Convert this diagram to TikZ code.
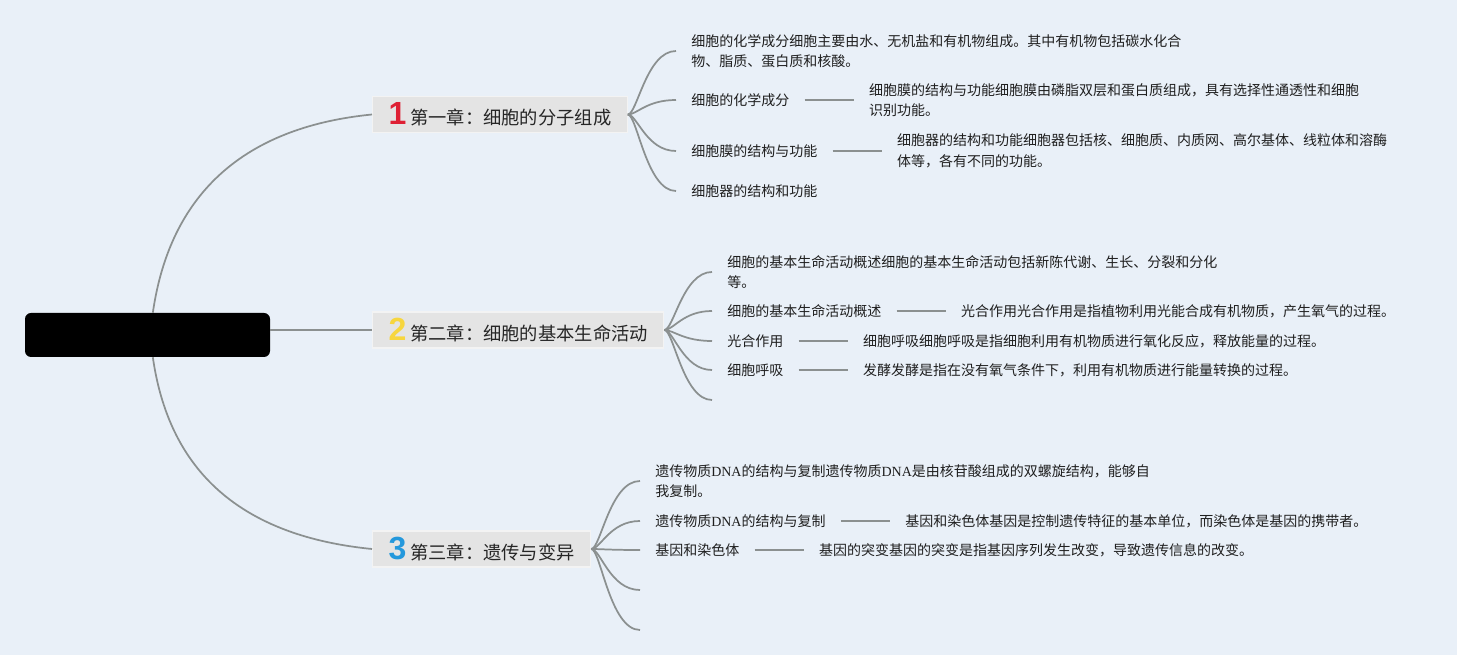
\documentclass[tikz,border=0pt]{standalone}
\usepackage{fontspec}
\newfontfamily\cjk{Noto Sans CJK SC}
\newfontfamily\numfont{Liberation Sans}
\newfontfamily\latinserif{Liberation Serif}
\usetikzlibrary{positioning,calc}
\definecolor{bgblue}{RGB}{233,240,248}
\definecolor{linegray}{RGB}{139,144,144}
\definecolor{chapfill}{RGB}{228,228,228}
\definecolor{numred}{RGB}{222,32,52}
\definecolor{numyellow}{RGB}{247,214,62}
\definecolor{numblue}{RGB}{36,152,220}
\newcommand{\dnatext}{{\latinserif DNA}}
\newcommand{\chapnum}[2]{{\numfont\bfseries\fontsize{24}{24}\selectfont\color{#1}#2}\hspace{3pt}}
\begin{document}
\begin{tikzpicture}[x=0.75pt,y=-0.75pt,
	chap/.style={fill=chapfill, draw=white!55!chapfill, line width=0.8pt, anchor=west, minimum height=27pt, inner xsep=12pt, inner ysep=2pt, font=\cjk\fontsize{13.7}{16}\selectfont, text=black!85},
	leaf/.style={anchor=west, inner xsep=11.25pt, inner ysep=2pt, align=left, font=\cjk\fontsize{10.5}{15.4}\selectfont, text=black!88},
	rootbox/.style={fill=black, rounded corners=4.5pt, minimum width=183.75pt, minimum height=33pt, inner sep=0pt},
	trunk/.style={line width=1.3pt, draw=linegray},
	branch/.style={line width=1.3pt, draw=linegray, to path={let \p1=(\tikztostart), \p2=(\tikztotarget) in .. controls (\x1+7pt,\y1) and (\x1+14pt,\y2) .. (\tikztotarget)}},
	link/.style={line width=1.3pt, draw=linegray}]
	\fill[bgblue] (0,0) rectangle (1457,655);
	\useasboundingbox (0,0) rectangle (1457,655);

	\node[rootbox] (root) at (147.5,335) {};
	\node[chap] (c1) at (372,114.5) {\chapnum{numred}{1}第一章：细胞的分子组成};
	\node[chap] (c2) at (372,330) {\chapnum{numyellow}{2}第二章：细胞的基本生命活动};
	\node[chap] (c3) at (372,549) {\chapnum{numblue}{3}第三章：遗传与变异};

	\node[leaf] (l11) at (676,51) {细胞的化学成分细胞主要由水、无机盐和有机物组成。其中有机物包括碳水化合\\物、脂质、蛋白质和核酸。};
	\node[leaf] (l12) at (676,100) {细胞的化学成分};
	\node[leaf, right=37pt of l12] (d12) {细胞膜的结构与功能细胞膜由磷脂双层和蛋白质组成，具有选择性通透性和细胞\\识别功能。};
	\node[leaf] (l13) at (676,151) {细胞膜的结构与功能};
	\node[leaf, right=37pt of l13] (d13) {细胞器的结构和功能细胞器包括核、细胞质、内质网、高尔基体、线粒体和溶酶\\体等，各有不同的功能。};
	\node[leaf] (l14) at (676,191) {细胞器的结构和功能};

	\node[leaf] (l21) at (712,272) {细胞的基本生命活动概述细胞的基本生命活动包括新陈代谢、生长、分裂和分化\\等。};
	\node[leaf] (l22) at (712,311) {细胞的基本生命活动概述};
	\node[leaf, right=37pt of l22] (d22) {光合作用光合作用是指植物利用光能合成有机物质，产生氧气的过程。};
	\node[leaf] (l23) at (712,341) {光合作用};
	\node[leaf, right=37pt of l23] (d23) {细胞呼吸细胞呼吸是指细胞利用有机物质进行氧化反应，释放能量的过程。};
	\node[leaf] (l24) at (712,370) {细胞呼吸};
	\node[leaf, right=37pt of l24] (d24) {发酵发酵是指在没有氧气条件下，利用有机物质进行能量转换的过程。};
	\coordinate (l25) at (712,400);

	\node[leaf] (l31) at (640,481) {遗传物质\dnatext 的结构与复制遗传物质\dnatext 是由核苷酸组成的双螺旋结构，能够自\\我复制。};
	\node[leaf] (l32) at (640,521) {遗传物质\dnatext 的结构与复制};
	\node[leaf, right=37pt of l32] (d32) {基因和染色体基因是控制遗传特征的基本单位，而染色体是基因的携带者。};
	\node[leaf] (l33) at (640,550) {基因和染色体};
	\node[leaf, right=37pt of l33] (d33) {基因的突变基因的突变是指基因序列发生改变，导致遗传信息的改变。};
	\coordinate (l34) at (640,590);
	\coordinate (l35) at (640,630);

	\draw[trunk] ([xshift=4pt]root.north) .. controls +(12,-83) and +(-162,16) .. (c1.west);
	\draw[trunk] (root.east |- c2.west) -- (c2.west);
	\draw[trunk] ([xshift=4pt]root.south) .. controls +(12,83) and +(-162,-16) .. (c3.west);

	\foreach \t in {l11.west,l12.west,l13.west,l14.west}
		\draw[branch] (c1.east) to (\t);
	\foreach \t in {l21.west,l22.west,l23.west,l24.west,l25}
		\draw[branch] (c2.east) to (\t);
	\foreach \t in {l31.west,l32.west,l33.west,l34,l35}
		\draw[branch] (c3.east) to (\t);

	\draw[link] (l12.east) -- (d12.west);
	\draw[link] (l13.east) -- (d13.west);
	\draw[link] (l22.east) -- (d22.west);
	\draw[link] (l23.east) -- (d23.west);
	\draw[link] (l24.east) -- (d24.west);
	\draw[link] (l32.east) -- (d32.west);
	\draw[link] (l33.east) -- (d33.west);
\end{tikzpicture}
\end{document}
